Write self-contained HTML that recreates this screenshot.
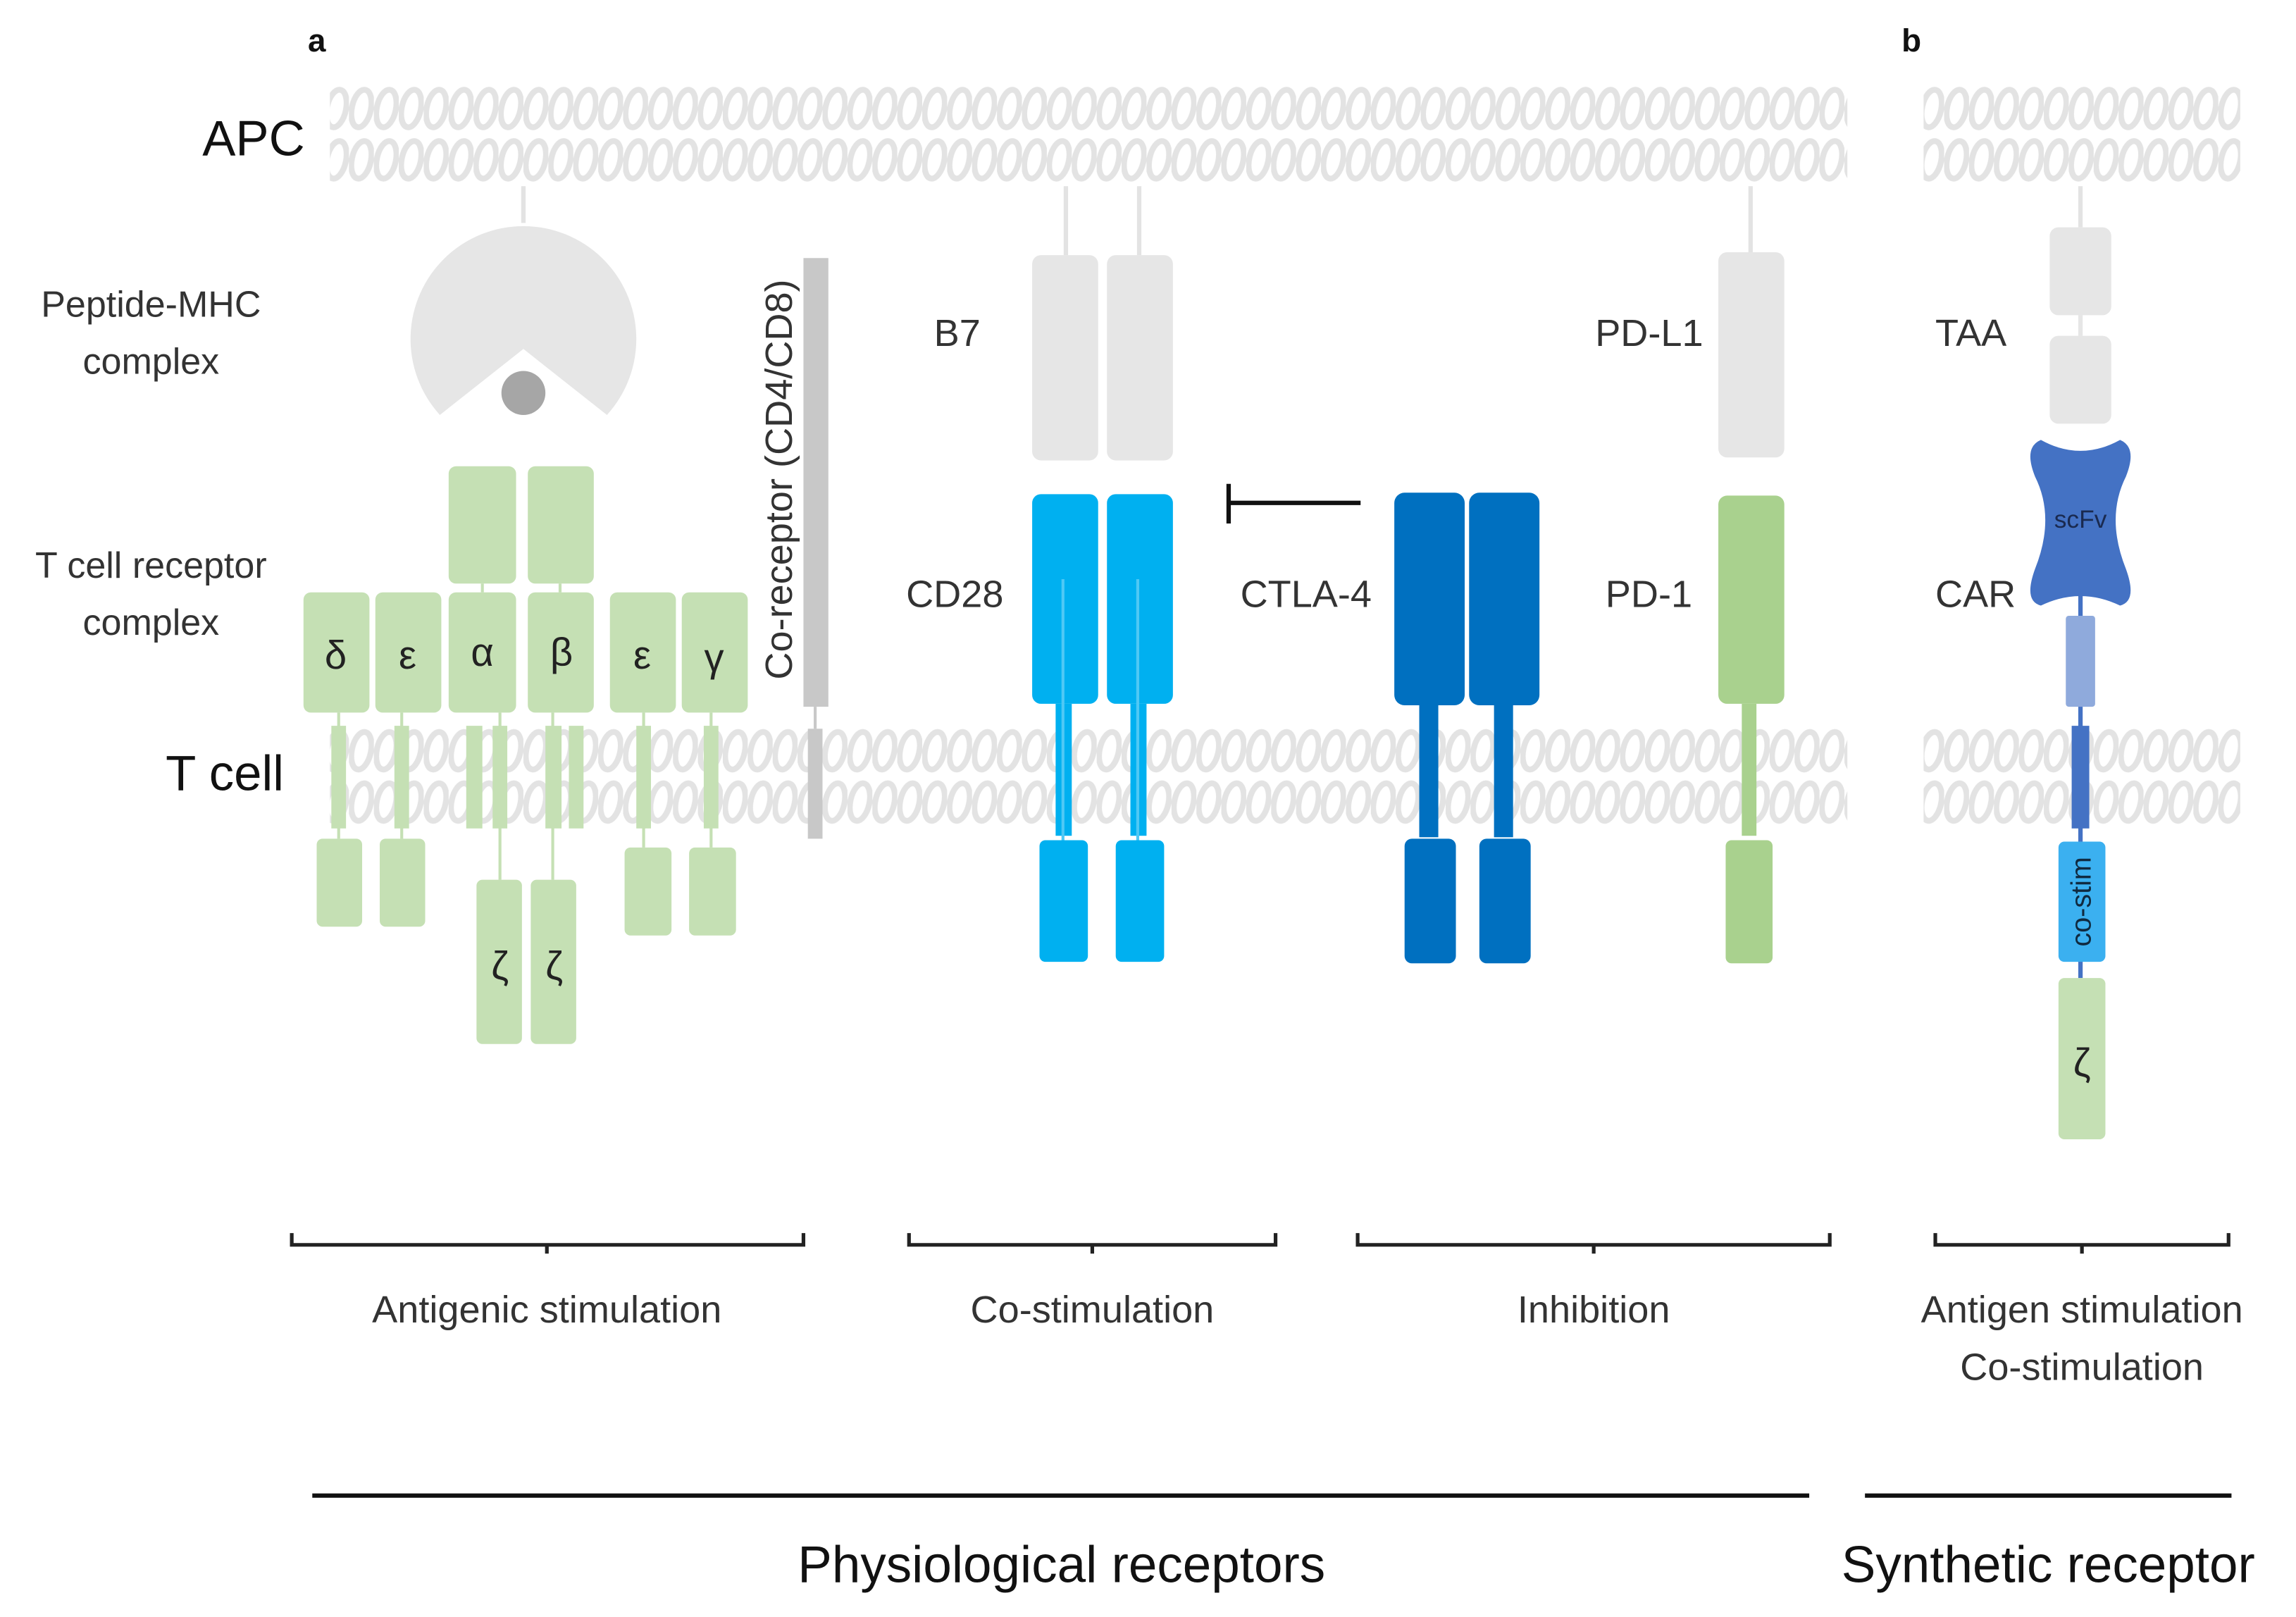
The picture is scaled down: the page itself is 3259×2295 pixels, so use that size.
<!DOCTYPE html>
<html><head><meta charset="utf-8"><style>
html,body{margin:0;padding:0;background:#fff}
svg{display:block}
text{font-family:"Liberation Sans",sans-serif;fill:#333}
</style></head><body>
<svg width="3259" height="2295" viewBox="0 0 1566 1102.8" preserveAspectRatio="none" xmlns="http://www.w3.org/2000/svg">
<defs>
<pattern id="mem" patternUnits="userSpaceOnUse" x="0" y="57" width="17" height="70">
<ellipse cx="8.5" cy="17" rx="6.5" ry="13" fill="none" stroke="#e3e3e3" stroke-width="4" transform="rotate(12 8.5 17)"/>
<ellipse cx="8.5" cy="52" rx="6.5" ry="13" fill="none" stroke="#e3e3e3" stroke-width="4" transform="rotate(12 8.5 52)"/>
</pattern>
<pattern id="mem2" patternUnits="userSpaceOnUse" x="0" y="495" width="17" height="70">
<ellipse cx="8.5" cy="17" rx="6.5" ry="13" fill="none" stroke="#e3e3e3" stroke-width="4" transform="rotate(12 8.5 17)"/>
<ellipse cx="8.5" cy="52" rx="6.5" ry="13" fill="none" stroke="#e3e3e3" stroke-width="4" transform="rotate(12 8.5 52)"/>
</pattern>
</defs>
<rect x="225" y="57" width="1035" height="70" fill="url(#mem)"/>
<rect x="1312" y="57" width="216" height="70" fill="url(#mem)"/>
<rect x="225" y="495" width="1035" height="70" fill="url(#mem2)"/>
<rect x="1312" y="495" width="216" height="70" fill="url(#mem2)"/>

<text x="210" y="35" font-size="22" font-weight="bold" style="fill:#111">a</text>
<text x="1297" y="35" font-size="22" font-weight="bold" style="fill:#111">b</text>
<text x="138" y="106" font-size="34" style="fill:#111">APC</text>
<text x="113" y="539" font-size="34" style="fill:#111">T cell</text>
<text x="103" y="216" font-size="25" text-anchor="middle">Peptide-MHC</text>
<text x="103" y="255" font-size="25" text-anchor="middle">complex</text>
<text x="103" y="394" font-size="25" text-anchor="middle">T cell receptor</text>
<text x="103" y="433" font-size="25" text-anchor="middle">complex</text>

<line x1="357" y1="127" x2="357" y2="152" stroke="#e3e3e3" stroke-width="3"/>
<path d="M414,283 A77,77 0 1 0 300,283 L357,238 Z" fill="#e6e6e6"/>
<circle cx="357" cy="268" r="15" fill="#a6a6a6"/>

<g stroke="#c5e0b4" stroke-width="2">
<line x1="231" y1="486" x2="231" y2="572"/><line x1="274" y1="486" x2="274" y2="572"/>
<line x1="341" y1="486" x2="341" y2="600"/><line x1="377" y1="486" x2="377" y2="600"/>
<line x1="439" y1="486" x2="439" y2="578"/><line x1="485" y1="486" x2="485" y2="578"/>
<line x1="329" y1="398" x2="329" y2="404"/><line x1="382" y1="398" x2="382" y2="404"/>
</g>
<g fill="#c5e0b4">
<rect x="306" y="318" width="46" height="80" rx="5"/><rect x="360" y="318" width="45" height="80" rx="5"/>
<rect x="207" y="404" width="45" height="82" rx="5"/><rect x="256" y="404" width="45" height="82" rx="5"/>
<rect x="306" y="404" width="46" height="82" rx="5"/><rect x="360" y="404" width="45" height="82" rx="5"/>
<rect x="416" y="404" width="45" height="82" rx="5"/><rect x="465" y="404" width="45" height="82" rx="5"/>
<rect x="226" y="495" width="10" height="70"/><rect x="269" y="495" width="10" height="70"/>
<rect x="318" y="495" width="11" height="70"/><rect x="336" y="495" width="10" height="70"/>
<rect x="372" y="495" width="11" height="70"/><rect x="388" y="495" width="10" height="70"/>
<rect x="434" y="495" width="10" height="70"/><rect x="480" y="495" width="10" height="70"/>
<rect x="216" y="572" width="31" height="60" rx="4"/><rect x="259" y="572" width="31" height="60" rx="4"/>
<rect x="325" y="600" width="31" height="112" rx="4"/><rect x="362" y="600" width="31" height="112" rx="4"/>
<rect x="426" y="578" width="32" height="60" rx="4"/><rect x="470" y="578" width="32" height="60" rx="4"/>
</g>
<g font-size="27" text-anchor="middle">
<text x="229" y="456" style="fill:#222">δ</text><text x="278" y="456" style="fill:#222">ε</text>
<text x="329" y="454" style="fill:#222">α</text><text x="383" y="454" style="fill:#222">β</text>
<text x="438" y="456" style="fill:#222">ε</text><text x="487" y="458" style="fill:#222">γ</text>
<text x="341" y="668" style="fill:#222">ζ</text><text x="378" y="668" style="fill:#222">ζ</text>
</g>

<rect x="548" y="176" width="17" height="306" fill="#c8c8c8"/>
<line x1="556" y1="482" x2="556" y2="497" stroke="#c8c8c8" stroke-width="2"/>
<rect x="551" y="497" width="10" height="75" fill="#c8c8c8"/>
<text transform="translate(540,327) rotate(-90)" font-size="26" text-anchor="middle">Co-receptor (CD4/CD8)</text>

<line x1="727" y1="127" x2="727" y2="174" stroke="#e3e3e3" stroke-width="3"/>
<line x1="777" y1="127" x2="777" y2="174" stroke="#e3e3e3" stroke-width="3"/>
<rect x="704" y="174" width="45" height="140" rx="6" fill="#e6e6e6"/>
<rect x="755" y="174" width="45" height="140" rx="6" fill="#e6e6e6"/>
<text x="637" y="236" font-size="26">B7</text>
<g fill="#00b0f0">
<rect x="704" y="337" width="45" height="143" rx="6"/><rect x="755" y="337" width="45" height="143" rx="6"/>
<rect x="720" y="480" width="11" height="90"/><rect x="771" y="480" width="11" height="90"/>
<rect x="709" y="573" width="33" height="83" rx="4"/><rect x="761" y="573" width="33" height="83" rx="4"/>
</g>
<line x1="725" y1="395" x2="725" y2="573" stroke="#4fc8f5" stroke-width="2"/>
<line x1="776" y1="395" x2="776" y2="573" stroke="#4fc8f5" stroke-width="2"/>
<text x="618" y="414" font-size="26">CD28</text>

<line x1="838" y1="343" x2="928" y2="343" stroke="#111" stroke-width="3"/>
<line x1="838" y1="330" x2="838" y2="357" stroke="#111" stroke-width="3"/>
<g fill="#0070c0">
<rect x="951" y="336" width="48" height="145" rx="7"/><rect x="1002" y="336" width="48" height="145" rx="7"/>
<rect x="968" y="481" width="13" height="90"/><rect x="1019" y="481" width="13" height="90"/>
<rect x="958" y="572" width="35" height="85" rx="5"/><rect x="1009" y="572" width="35" height="85" rx="5"/>
</g>
<text x="846" y="414" font-size="26">CTLA-4</text>

<line x1="1194" y1="127" x2="1194" y2="172" stroke="#e3e3e3" stroke-width="3"/>
<rect x="1172" y="172" width="45" height="140" rx="6" fill="#e6e6e6"/>
<text x="1088" y="236" font-size="26">PD-L1</text>
<g fill="#a9d18e">
<rect x="1172" y="338" width="45" height="142" rx="6"/>
<rect x="1188" y="480" width="10" height="90"/>
<rect x="1177" y="573" width="32" height="84" rx="4"/>
</g>
<text x="1095" y="414" font-size="26">PD-1</text>

<line x1="1419" y1="127" x2="1419" y2="155" stroke="#e3e3e3" stroke-width="3"/>
<rect x="1398" y="155" width="42" height="60" rx="6" fill="#e6e6e6"/>
<rect x="1398" y="229" width="42" height="60" rx="6" fill="#e6e6e6"/>
<line x1="1419" y1="215" x2="1419" y2="229" stroke="#e6e6e6" stroke-width="3"/>
<text x="1320" y="236" font-size="26">TAA</text>
<text x="1320" y="414" font-size="26">CAR</text>
<line x1="1419" y1="400" x2="1419" y2="667" stroke="#4472c4" stroke-width="3"/>
<path d="M1392,300 Q1419,315 1446,300 Q1458,305 1450,325 Q1436,353 1450,388 Q1458,410 1446,413 Q1419,400 1392,413 Q1380,410 1388,388 Q1402,353 1388,325 Q1380,305 1392,300 Z" fill="#4472c4"/>
<text x="1419" y="360" font-size="17" text-anchor="middle" style="fill:#1a2a50">scFv</text>
<rect x="1409" y="420" width="20" height="62" rx="2" fill="#8faadc"/>
<rect x="1413" y="495" width="12" height="70" fill="#4472c4"/>
<rect x="1404" y="574" width="32" height="82" rx="4" fill="#3bb0f0"/>
<text transform="translate(1426,615) rotate(-90)" font-size="19" text-anchor="middle" style="fill:#102a40">co-stim</text>
<rect x="1404" y="667" width="32" height="110" rx="4" fill="#c5e0b4"/>
<text x="1420" y="734" font-size="27" text-anchor="middle" style="fill:#222">ζ</text>

<g stroke="#222" stroke-width="2.5" fill="none">
<path d="M199,841 V849 H548 V841 M373,849 V855"/>
<path d="M620,841 V849 H870 V841 M745,849 V855"/>
<path d="M926,841 V849 H1248 V841 M1087,849 V855"/>
<path d="M1320,841 V849 H1520 V841 M1420,849 V855"/>
</g>
<g font-size="26" text-anchor="middle">
<text x="373" y="902">Antigenic stimulation</text>
<text x="745" y="902">Co-stimulation</text>
<text x="1087" y="902">Inhibition</text>
<text x="1420" y="902">Antigen stimulation</text>
<text x="1420" y="941">Co-stimulation</text>
</g>
<line x1="213" y1="1020" x2="1234" y2="1020" stroke="#111" stroke-width="3"/>
<line x1="1272" y1="1020" x2="1522" y2="1020" stroke="#111" stroke-width="3"/>
<text x="724" y="1079" font-size="35" text-anchor="middle" style="fill:#111">Physiological receptors</text>
<text x="1397" y="1079" font-size="35" text-anchor="middle" style="fill:#111">Synthetic receptor</text>
</svg>
</body></html>
